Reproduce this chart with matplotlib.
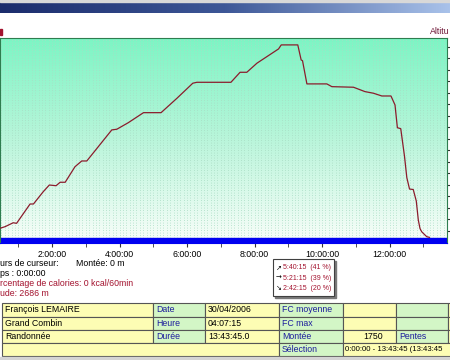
import matplotlib
matplotlib.use("Agg")
import matplotlib.pyplot as plt
import numpy as np
from matplotlib.patches import Rectangle
from matplotlib.colors import LinearSegmentedColormap

plt.rcParams['font.family'] = ['Liberation Sans', 'DejaVu Sans']

# profil : temps (heures) / altitude (m)
hours = [0.46, 0.61, 0.85, 0.95, 1.35, 1.45, 1.74, 1.92, 2.12, 2.24, 2.39, 2.68,
         2.88, 3.03, 3.37, 3.77, 3.92, 4.26, 4.71, 5.23, 5.70, 6.17, 6.29, 7.13,
         7.30, 7.57, 7.77, 8.07, 8.71, 8.79, 9.28, 9.38, 9.42, 9.55, 10.14, 10.29,
         10.93, 11.27, 11.52, 11.77, 12.04, 12.16, 12.23, 12.33, 12.44, 12.51,
         12.59, 12.70, 12.79, 12.85, 12.90, 12.95, 13.05, 13.10, 13.18]
altitude = [1622, 1636, 1670, 1665, 1833, 1833, 1940, 1998, 1992, 2022, 2022, 2157,
            2207, 2207, 2331, 2477, 2483, 2540, 2627, 2627, 2752, 2883, 2891, 2891,
            2891, 2978, 2978, 3057, 3181, 3216, 3216, 3085, 3079, 2877, 2877, 2853,
            2848, 2810, 2796, 2772, 2772, 2694, 2496, 2488, 2250, 2062,
            1963, 1959, 1859, 1694, 1620, 1592, 1563, 1549, 1543]

tick_hours = [2, 4, 6, 8, 10, 12]
tick_labels = ['2:00:00', '4:00:00', '6:00:00', '8:00:00', '10:00:00', '12:00:00']
alt_ticks = list(range(1600, 3300, 100))

# textes visibles (coupés par le bord de la fenêtre)
cursor_black = ['urs de curseur:', 'ps : 0:00:00']
cursor_red = ['rcentage de calories: 0 kcal/60min', 'ude: 2686 m']
montee_txt = 'Montée: 0 m'
alt_title = 'Altitu'

pente_arrows = ['↗', '→', '↘']
pente_times = ['5:40:15', '5:21:15', '2:42:15']
pente_pct = [41, 39, 20]

tab_nom = ['François LEMAIRE', 'Grand Combin', 'Randonnée']
tab_lab1 = ['Date', 'Heure', 'Durée']
tab_val1 = ['30/04/2006', '04:07:15', '13:43:45.0']
tab_lab2 = ['FC moyenne', 'FC max', 'Montée']
tab_val2 = ['', '', '1750']
tab_lab3 = ['', '', 'Pentes']
selection = '0:00:00 - 13:43:45 (13:43:45'

fs = 6.3
red = '#a3122e'
blue_txt = '#1c1c9c'
yellow = '#fdfdb4'
green = '#d3f6c6'

fig = plt.figure(figsize=(4.5, 3.6), dpi=100)

# couche "interface" en pixels
ui = fig.add_axes([0, 0, 1, 1])
ui.axis('off')

# barre de titre
bar_cmap = LinearSegmentedColormap.from_list('bar', ['#1b2c6c', '#3d5797', '#a9c2ea'])
ui.imshow(np.linspace(0, 1, 256).reshape(1, -1), extent=(0, 450, 13, 1),
          cmap=bar_cmap, aspect='auto')
ui.add_patch(Rectangle((0, 0), 450, 1.5, color='#d8d8d8'))

# bout de l'étiquette gauche
ui.add_patch(Rectangle((0, 29), 1.6, 6, color=red))
ui.text(430, 32, alt_title, color='#701838', fontsize=fs, ha='left', va='center')

# textes curseur
ui.text(0, 263, cursor_black[0], fontsize=fs, ha='left', va='center')
ui.text(76, 263, montee_txt, fontsize=fs, ha='left', va='center')
ui.text(0, 273, cursor_black[1], fontsize=fs, ha='left', va='center')
ui.text(0, 283, cursor_red[0], fontsize=fs, ha='left', va='center', color=red)
ui.text(0, 293, cursor_red[1], fontsize=fs, ha='left', va='center', color=red)

# encadré pentes
ui.add_patch(Rectangle((275, 261), 61, 37, color='#7a7a7a'))
ui.add_patch(Rectangle((273, 259), 61, 37, facecolor='white', edgecolor='#404040', lw=0.8))
for i in range(3):
    yy = 267.5 + i * 10.5
    ui.text(276, yy, pente_arrows[i], fontsize=5, va='center', ha='left',
            family=['DejaVu Sans'])
    ui.text(283, yy, '%s  (%d %%)' % (pente_times[i], pente_pct[i]), fontsize=5,
            va='center', ha='left', color=red)

# tableau
rows_y = [303, 316.5, 330, 343, 356]
cols_x = [2, 153, 205, 279, 343, 396, 448, 470]
col_colors = [yellow, green, yellow, green, yellow, green, yellow]
for r in range(3):
    for c in range(7):
        ui.add_patch(Rectangle((cols_x[c], rows_y[r]), cols_x[c + 1] - cols_x[c],
                               rows_y[r + 1] - rows_y[r], facecolor=col_colors[c],
                               edgecolor='#555555', lw=0.8))
r4 = [(2, 279, yellow), (279, 343, green), (343, 470, yellow)]
for xa, xb, col in r4:
    ui.add_patch(Rectangle((xa, rows_y[3]), xb - xa, rows_y[4] - rows_y[3],
                           facecolor=col, edgecolor='#555555', lw=0.8))
ui.add_patch(Rectangle((0, 356.5), 450, 4, color='#d4d4d4'))

for r in range(3):
    yc = (rows_y[r] + rows_y[r + 1]) / 2
    ui.text(5, yc, tab_nom[r], fontsize=fs, va='center')
    ui.text(156, yc, tab_lab1[r], fontsize=fs, va='center', color=blue_txt)
    ui.text(208, yc, tab_val1[r], fontsize=fs, va='center')
    ui.text(282, yc, tab_lab2[r], fontsize=fs, va='center', color=blue_txt)
    ui.text(383, yc, tab_val2[r], fontsize=fs, va='center', ha='right')
    ui.text(399, yc, tab_lab3[r], fontsize=fs, va='center', color=blue_txt)
yc = (rows_y[3] + rows_y[4]) / 2
ui.text(282, yc, 'Sélection', fontsize=fs, va='center', color=blue_txt)
ui.text(345, yc, selection, fontsize=5.6, va='center')

ui.set_xlim(0, 450)
ui.set_ylim(360, 0)

# graphique altitude
ax = fig.add_axes([0, 117 / 360, 447 / 450, 205 / 360])
x0, x1 = 0.459, 13.70
y0, y1 = 1494, 3276
bar_top = 1537

grad = LinearSegmentedColormap.from_list('fond', ['#f6fdf8', '#b8f5da', '#7cf5c4'])
ax.imshow(np.linspace(0, 1, 256).reshape(-1, 1), extent=(x0, x1, bar_top, y1),
          origin='lower', cmap=grad, aspect='auto', zorder=0)
ax.vlines(np.arange(0.5, 13.7, 0.1), bar_top, y1, colors='#a9dcc4',
          linestyles=(0, (1, 2)), lw=0.6, zorder=1)
ax.axhspan(y0, bar_top, color='#0000f0', zorder=2)

ax.plot(hours, altitude, color='#8b1c2c', lw=0.9, zorder=3)

ax.set_xlim(x0, x1)
ax.set_ylim(y0, y1)
ax.set_xticks(tick_hours, tick_labels)
ax.set_xticks(range(1, 14), minor=True)
ax.tick_params(axis='x', which='both', direction='out', length=3, color='#333333',
               labelsize=fs, pad=2)
ax.yaxis.tick_right()
ax.set_yticks(alt_ticks)
ax.tick_params(axis='y', direction='out', length=3, color='#333333', labelright=False)
for s in ['top', 'right', 'left']:
    ax.spines[s].set_color('#2e7d4f')
ax.spines['bottom'].set_color('#0000f0')

fig.savefig('out.png', dpi=100)
